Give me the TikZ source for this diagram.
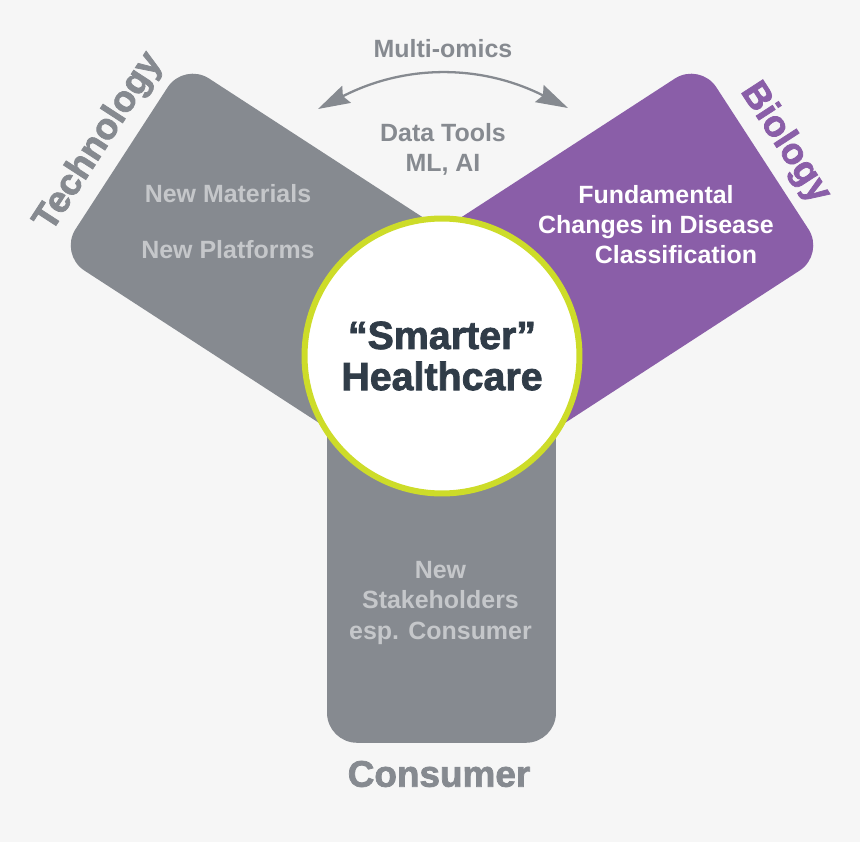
\documentclass[tikz,border=0pt]{standalone}
\usepackage{fontspec}
\setmainfont{Liberation Sans}
\newfontfamily\heavyfont[RawFeature={embolden=2}]{Liberation Sans Bold}
\usetikzlibrary{arrows.meta}
\definecolor{pagegray}{RGB}{246,246,246}
\definecolor{armgray}{RGB}{134,138,144}
\definecolor{armpurple}{RGB}{138,94,168}
\definecolor{ringgreen}{RGB}{205,220,41}
\definecolor{softtext}{RGB}{197,199,202}
\definecolor{inkdark}{RGB}{48,60,72}
\begin{document}
\begin{tikzpicture}[
  x=0.02cm, y=0.02cm,
  arm/.style={rectangle, rounded corners=0.6cm, minimum height=4.58cm, inner sep=0pt, anchor=west},
  bodytext/.style={font=\bfseries\fontsize{14.2}{17.1}\selectfont, align=center, inner sep=0pt},
  armlabel/.style={font=\heavyfont\fontsize{21}{25}\selectfont, inner sep=0pt},
  hub/.style={circle, draw=ringgreen, line width=0.12cm, fill=white, minimum size=5.5cm, inner sep=0pt, align=center, text=inkdark, font=\heavyfont\fontsize{22.4}{23.4}\selectfont},
  omics/.style={{Stealth[length=0.64cm,width=0.38cm,inset=0.08cm]}-{Stealth[length=0.64cm,width=0.38cm,inset=0.08cm]}, line width=1.3pt, armgray}
]
\fill[pagegray] (0,0) rectangle (860,-842);
\useasboundingbox (0,0) rectangle (860,-842);
\node[arm, fill=armgray, rotate=147, minimum width=7.54cm] (tech) at (438,-363.7) {};
\node[arm, fill=armpurple, rotate=33, minimum width=7.54cm] (bio) at (446,-363.7) {};
\node[arm, fill=armgray, rotate=270, minimum width=7.70cm] (cons) at (441.5,-357.5) {};
\node[hub] (hub) at (442,-356) {“Smarter”\\Healthcare};
\node[bodytext, text=softtext] (mat) at (228,-194) {New Materials};
\node[bodytext, text=softtext] (plat) at (228,-250) {New Platforms};
\node[bodytext, text=white] (disease) at (656,-224.5) {Fundamental\\Changes in Disease\\\hspace*{0.8cm}Classification};
\node[bodytext, text=softtext] (stake) at (440.5,-603) {New\\Stakeholders\\esp. Consumer};
\node[bodytext, text=armgray] (omicslbl) at (443,-49) {Multi-omics};
\node[bodytext, text=armgray] (tools) at (443,-149.5) {Data Tools\\ML, AI};
\node[armlabel, text=armgray, rotate=57] (techlbl) at (99,-142) {Technology};
\node[armlabel, text=armpurple, rotate=-57] (biolbl) at (785,-143) {Biology};
\node[armlabel, text=armgray] (conslbl) at (439,-774) {Consumer};
\coordinate (omicsL) at (318,-109);
\coordinate (omicsR) at (568,-108);
\draw[omics] (omicsL) to[bend left=27] (omicsR);
\end{tikzpicture}
\end{document}
